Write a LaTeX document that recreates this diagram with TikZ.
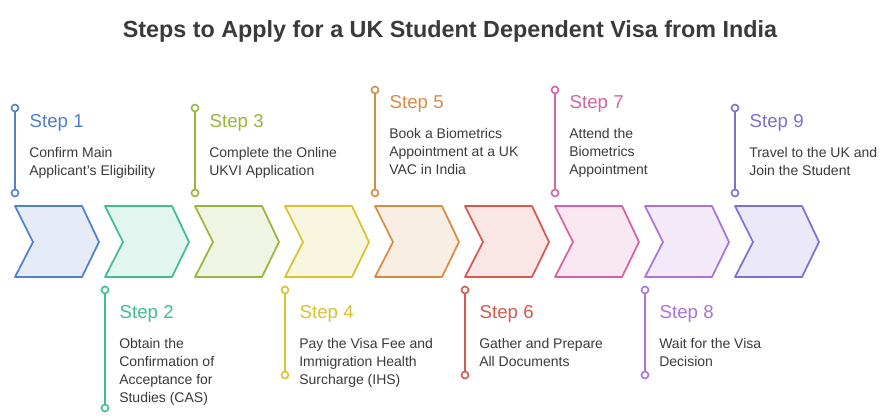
\documentclass[tikz,border=0pt]{standalone}
\usepackage{fontspec}
\setmainfont{Liberation Sans}
\usetikzlibrary{positioning}
\definecolor{c1}{HTML}{4F7FCF}
\definecolor{c2}{HTML}{3DBE8B}
\definecolor{c3}{HTML}{98B53C}
\definecolor{c4}{HTML}{D8C22F}
\definecolor{c5}{HTML}{D98B44}
\definecolor{c6}{HTML}{D6584F}
\definecolor{c7}{HTML}{D563A4}
\definecolor{c8}{HTML}{A973DA}
\definecolor{c9}{HTML}{7C6FD6}
\definecolor{txt}{HTML}{3A3A3A}
\tikzset{
  steplabel/.style={anchor=west, font=\fontsize{14}{16}\selectfont},
  stepbody/.style={anchor=north west, align=left, text=txt, inner sep=0pt,
    font=\fontsize{10.5}{13.5}\selectfont},
  pin/.style={line width=1.2pt},
}
\begin{document}
\begin{tikzpicture}[x=0.75pt,y=-0.75pt]
  \useasboundingbox (0,0) rectangle (885,420);
  \node (title) at (450,31) {\fontsize{17.5}{20}\selectfont\bfseries\color{txt}Steps to Apply for a UK Student Dependent Visa from India};

  % chevrons
  \foreach \i in {1,...,9}{
    \pgfmathsetmacro{\xx}{15+90*(\i-1)}
    \draw[c\i, line width=1.3pt, line join=round, fill=c\i!15]
      (\xx,206) -- ++(67,0) -- ++(17,36) -- ++(-17,35) -- ++(-67,0) -- ++(18,-35) -- cycle;
  }

  % steps: number / line top / line bottom / label y / text
  \foreach \i/\ta/\tb/\ly/\body in {
      1/108/193/123/{Confirm Main\\Applicant's Eligibility},
      2/290/408/314/{Obtain the\\Confirmation of\\Acceptance for\\Studies (CAS)},
      3/108/193/123/{Complete the Online\\UKVI Application},
      4/290/375/314/{Pay the Visa Fee and\\Immigration Health\\Surcharge (IHS)},
      5/90/193/104/{Book a Biometrics\\Appointment at a UK\\VAC in India},
      6/290/375/314/{Gather and Prepare\\All Documents},
      7/90/193/104/{Attend the\\Biometrics\\Appointment},
      8/290/375/314/{Wait for the Visa\\Decision},
      9/108/193/123/{Travel to the UK and\\Join the Student}}{
    \pgfmathsetmacro{\xx}{15+90*(\i-1)}
    \coordinate (top\i) at (\xx,\ta);
    \coordinate (bot\i) at (\xx,\tb);
    \draw[pin, c\i] (top\i) -- (bot\i);
    \draw[pin, c\i, fill=white] (top\i) circle (3.5) (bot\i) circle (3.5);
    \node[steplabel, text=c\i] (lab\i) at (\xx+10,\ly) {Step \i};
    \node[stepbody] (body\i) at (\xx+14,\ly+24) {\body};
  }
\end{tikzpicture}
\end{document}
